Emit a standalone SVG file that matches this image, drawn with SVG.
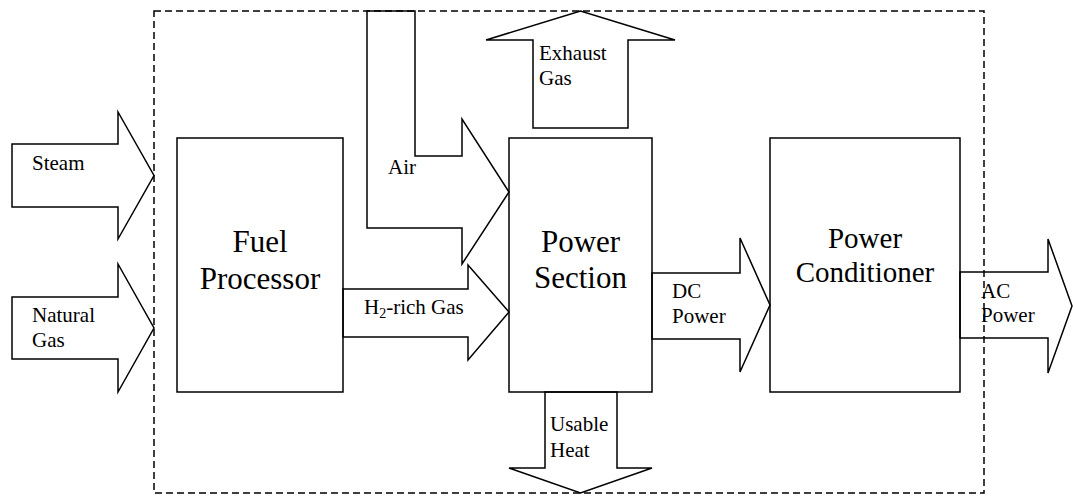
<svg xmlns="http://www.w3.org/2000/svg" width="1073" height="496" viewBox="0 0 1073 496">
<style>
.box{fill:#fff;stroke:#000;stroke-width:1.5}
.arr{fill:none;stroke:#000;stroke-width:1.5;stroke-linejoin:miter}
.bound{fill:none;stroke:#000;stroke-width:1.5;stroke-dasharray:7 4}
.big{font-family:"Liberation Serif","Times New Roman",serif;font-size:31px;text-anchor:middle;fill:#000}
.big2{font-family:"Liberation Serif","Times New Roman",serif;font-size:29px;text-anchor:middle;fill:#000}
.lbl{font-family:"Liberation Serif","Times New Roman",serif;font-size:21px;fill:#000}
</style>
<rect width="1073" height="496" fill="#fff"/>
<g id="node-fuel-processor">
<rect class="box" x="177" y="138" width="166" height="254"/>
<text class="big" x="260" y="252">Fuel</text>
<text class="big" x="260" y="289">Processor</text>
</g>
<g id="node-power-section">
<rect class="box" x="509" y="138" width="143" height="254"/>
<text class="big" x="580.5" y="252">Power</text>
<text class="big" x="580.5" y="288">Section</text>
</g>
<g id="node-power-conditioner">
<rect class="box" x="770" y="138" width="190" height="254"/>
<text class="big2" x="865" y="248">Power</text>
<text class="big2" x="865" y="282">Conditioner</text>
</g>
<g id="connectors">
<g id="steam">
<polygon class="arr" points="12,144 118,144 118,112 154,175.5 118,239 118,207 12,207"/>
<text class="lbl" x="32" y="170">Steam</text>
</g>
<g id="natural-gas">
<polygon class="arr" points="12,297 118,297 118,264 154,328 118,392 118,359 12,359"/>
<text class="lbl" x="32" y="322">Natural</text>
<text class="lbl" x="32" y="347">Gas</text>
</g>
<g id="air">
<polygon class="arr" points="367,11 415,11 415,156 462,156 462,119 509,192 462,264 462,228 367,228"/>
<text class="lbl" x="388" y="174">Air</text>
</g>
<g id="h2-gas">
<polygon class="arr" points="343,289 468,289 468,265 509,312 468,360 468,337 343,337"/>
<text class="lbl" x="364" y="314">H<tspan font-size="14" dy="4">2</tspan><tspan dy="-4">-rich Gas</tspan></text>
</g>
<g id="exhaust-gas">
<polygon class="arr" points="533,128 533,40 486,40 580.5,11 675,40 628,40 628,128"/>
<text class="lbl" x="539" y="60">Exhaust</text>
<text class="lbl" x="539" y="85">Gas</text>
</g>
<g id="usable-heat">
<polygon class="arr" points="545,392 545,468 509,468 580.5,493 652,468 617,468 617,392"/>
<text class="lbl" x="550" y="431">Usable</text>
<text class="lbl" x="550" y="457">Heat</text>
</g>
<g id="dc-power">
<polygon class="arr" points="652,273 740,273 740,238 770,305 740,372 740,339 652,339"/>
<text class="lbl" x="672" y="298">DC</text>
<text class="lbl" x="672" y="323">Power</text>
</g>
<g id="ac-power">
<polygon class="arr" points="960,272 1048,272 1048,239 1072,306 1048,373 1048,338 960,338"/>
<text class="lbl" x="981" y="298">AC</text>
<text class="lbl" x="981" y="322">Power</text>
</g>
</g>
<rect id="boundary" class="bound" x="154" y="11" width="830" height="482"/>
</svg>
